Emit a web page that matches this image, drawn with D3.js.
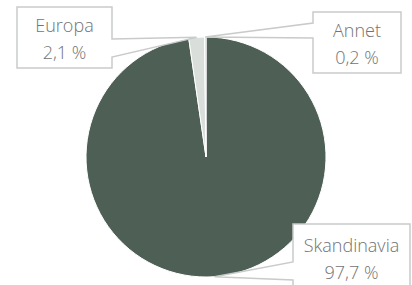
<!DOCTYPE html>
<html>
<head>
<meta charset="utf-8">
<script src="https://cdn.jsdelivr.net/npm/d3@7"></script>
<style>
body { margin: 0; background: #fff; }
svg { display: block; }
</style>
</head>
<body>
<svg width="412" height="285"></svg>
<script>
// data
var regions = ["Skandinavia", "Europa", "Annet"];
var shares = [97.7, 2.1, 0.2];
var shareLabels = ["97,7 %", "2,1 %", "0,2 %"];
var colors = ["#4e5f56", "#d9dedb", "#c6ccc8"];

var svg = d3.select("svg");
var cx = 206, cy = 157, r = 120;

// callout boxes (x, y, w, h, side of the pointer, pointer gap y0..y1, first baseline)
var boxes = [
    {x: 293, y: 224, w: 117, h: 64, side: "left", p0: 262, p1: 280, t: 252},
    {x: 17, y: 7, w: 95, h: 61, side: "right", p0: 39, p1: 57, t: 32},
    {x: 313, y: 12, w: 88, h: 61, side: "left", p0: 23, p1: 38, t: 37}
];

var pie = d3.pie().sort(null).value(function(d) { return d; });
var arcs = pie(shares);
var arc = d3.arc().innerRadius(0).outerRadius(r);

var g = svg.append("g").attr("transform", "translate(" + cx + "," + cy + ")");

g.selectAll("path")
    .data(arcs)
  .enter().append("path")
    .attr("d", arc)
    .attr("fill", function(d, i) { return colors[i]; })
    .attr("stroke", "#fff")
    .attr("stroke-width", 1);

// pointer tip on the rim, middle of the slice
function tip(d) {
    var a = (d.startAngle + d.endAngle) / 2;
    return [cx + r * Math.sin(a), cy - r * Math.cos(a)];
}

function calloutPath(b, t) {
    var x0 = b.x, y0 = b.y, x1 = b.x + b.w, y1 = b.y + b.h;
    var p = d3.path();
    p.moveTo(x0, y0);
    p.lineTo(x1, y0);
    if (b.side == "right") {
        p.lineTo(x1, b.p0); p.lineTo(t[0], t[1]); p.lineTo(x1, b.p1);
    }
    p.lineTo(x1, y1);
    p.lineTo(x0, y1);
    if (b.side == "left") {
        p.lineTo(x0, b.p1); p.lineTo(t[0], t[1]); p.lineTo(x0, b.p0);
    }
    p.closePath();
    return p.toString();
}

var labels = svg.append("g").selectAll("g")
    .data(arcs)
  .enter().append("g");

labels.append("path")
    .attr("d", function(d, i) { return calloutPath(boxes[i], tip(d)); })
    .attr("fill", "#fff")
    .attr("stroke", "#c8cbc9")
    .attr("stroke-width", 1.5);

labels.append("text")
    .attr("x", function(d, i) { return boxes[i].x + boxes[i].w / 2; })
    .attr("y", function(d, i) { return boxes[i].t; })
    .attr("text-anchor", "middle")
    .style("font-family", "'Open Sans', sans-serif")
    .style("font-weight", 300)
    .style("font-size", "18px")
    .style("fill", "#737373")
    .text(function(d, i) { return regions[i]; });

labels.append("text")
    .attr("x", function(d, i) { return boxes[i].x + boxes[i].w / 2; })
    .attr("y", function(d, i) { return boxes[i].t + 26.5; })
    .attr("text-anchor", "middle")
    .style("font-family", "'Open Sans', sans-serif")
    .style("font-weight", 300)
    .style("font-size", "18px")
    .style("fill", "#737373")
    .text(function(d, i) { return shareLabels[i]; });
</script>
</body>
</html>
